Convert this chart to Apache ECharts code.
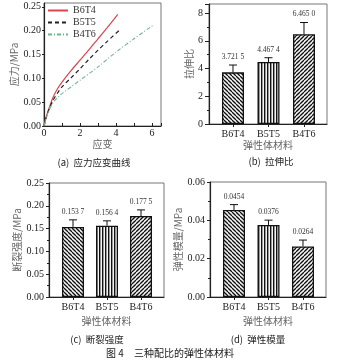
<!DOCTYPE html>
<html><head><meta charset="utf-8">
<script src="https://cdn.jsdelivr.net/npm/echarts@6/dist/echarts.min.js"></script>
<style>html,body{margin:0;padding:0;background:#fff}#c{width:340px;height:363px}</style>
</head><body><div id="c"></div>
<script>
// ---------- data ----------
const seriesNames = ['B6T4', 'B5T5', 'B4T6'];
const categories = ['B6T4', 'B5T5', 'B4T6'];
// (a) stress-strain curves [strain, stress MPa]
const curveB6T4 = [[0,0],[0.1,0.016],[0.25,0.034],[0.5,0.060],[0.75,0.078],[1,0.092],[1.5,0.116],[2,0.138],[2.5,0.160],[3,0.183],[3.5,0.206],[4.1,0.234]];
const curveB5T5 = [[0,0],[0.1,0.015],[0.25,0.032],[0.5,0.054],[0.75,0.069],[1,0.082],[1.5,0.101],[2,0.120],[2.5,0.140],[3,0.159],[3.5,0.177],[4.19,0.201]];
const curveB4T6 = [[0,0],[0.1,0.014],[0.25,0.030],[0.5,0.049],[0.75,0.060],[1,0.068],[1.5,0.082],[2,0.096],[3,0.124],[4,0.155],[5,0.183],[6.05,0.211]];
// (b) tensile ratio
const ratioValues = [3.7215, 4.4674, 6.4650];
const ratioErrors = [0.53, 0.31, 0.85];
const ratioLabels = ['3.721 5', '4.467 4', '6.465 0'];
// (c) breaking strength
const strengthValues = [0.1537, 0.1564, 0.1775];
const strengthErrors = [0.0155, 0.0106, 0.0135];
const strengthLabels = ['0.153 7', '0.156 4', '0.177 5'];
// (d) elastic modulus
const modulusValues = [0.0454, 0.0376, 0.0264];
const modulusErrors = [0.0028, 0.0025, 0.0033];
const modulusLabels = ['0.0454', '0.0376', '0.0264'];
// tick labels
const strainTicks = [0, 2, 4, 6];

// ---------- patterns ----------
function hatch(kind) {
  const c = document.createElement('canvas');
  const s = kind === 'vert' ? 3 : 4;
  c.width = s; c.height = s;
  const g = c.getContext('2d');
  g.fillStyle = '#f4f4f4'; g.fillRect(0, 0, s, s);
  g.fillStyle = '#111'; g.strokeStyle = '#111'; g.lineWidth = 1.3;
  if (kind === 'vert') { g.fillRect(0, 0, 1.4, s); }
  else {
    for (let k = -1; k <= 1; k++) {
      g.beginPath();
      if (kind === 'fwd') { g.moveTo(k * s, s); g.lineTo(k * s + s, 0); }
      else { g.moveTo(k * s, 0); g.lineTo(k * s + s, s); }
      g.stroke();
    }
  }
  return { image: c, repeat: 'repeat' };
}
const patterns = [hatch('back'), hatch('vert'), hatch('fwd')];

const serif = 'Liberation Serif';
const cjk = 'Noto Sans CJK SC';
const axisCol = '#222';

function barPanel(gi, values, errors, labels) {
  return [
    {
      type: 'bar', xAxisIndex: gi, yAxisIndex: gi, barWidth: 22,
      data: values.map((v, i) => ({
        value: [i, v],
        itemStyle: { color: patterns[i], borderColor: '#111', borderWidth: 1.3 }
      })),
      silent: true, z: 2
    },
    {
      type: 'custom', xAxisIndex: gi, yAxisIndex: gi, z: 3, silent: true, clip: false,
      data: values.map((v, i) => [i, v]),
      renderItem: function (params, api) {
        const i = params.dataIndex;
        const v = values[i], e = errors[i];
        const p0 = api.coord([i, v]);
        const p1 = api.coord([i, v + e]);
        const st = { stroke: '#111', lineWidth: 1 };
        return {
          type: 'group', children: [
            { type: 'line', shape: { x1: p0[0], y1: p0[1], x2: p1[0], y2: p1[1] }, style: st },
            { type: 'line', shape: { x1: p1[0] - 4, y1: p1[1], x2: p1[0] + 4, y2: p1[1] }, style: st },
            { type: 'text', x: p1[0], y: p1[1] - 4,
              style: { text: labels[i], align: 'center', verticalAlign: 'bottom',
                       fontFamily: serif, fontSize: 7.5, fill: '#333' } }
          ]
        };
      }
    }
  ];
}

function catAxis(gi, min, max, name, gap) {
  return {
    type: 'value', gridIndex: gi, min: min, max: max,
    axisLine: { onZero: false, lineStyle: { color: axisCol, width: 1.2 } },
    axisTick: { show: true, customValues: [0, 1, 2], length: 3, lineStyle: { color: axisCol } },
    axisLabel: { customValues: [0, 1, 2], formatter: v => categories[Math.round(v)] || '',
                 fontFamily: serif, fontSize: 10, color: '#222', margin: 5 },
    splitLine: { show: false },
    name: name, nameLocation: 'middle', nameGap: gap,
    nameTextStyle: { fontFamily: cjk, fontSize: 10, color: '#666' }
  };
}
function valAxis(gi, max, interval, digits, name, gap, margin, tickLen) {
  return {
    type: 'value', gridIndex: gi, min: 0, max: max, interval: interval,
    axisLine: { show: true, onZero: false, lineStyle: { color: axisCol, width: 1.2 } },
    axisTick: { show: true, length: tickLen, lineStyle: { color: axisCol } },
    minorTick: { show: true, splitNumber: 2, length: 2, lineStyle: { color: axisCol } },
    axisLabel: { formatter: v => v.toFixed(digits), fontFamily: serif, fontSize: 10, color: '#222', margin: margin },
    splitLine: { show: false },
    name: name, nameLocation: 'middle', nameGap: gap,
    nameTextStyle: { fontFamily: cjk, fontSize: 10, color: '#666' }
  };
}

const gridBase = { show: true, borderColor: '#777', borderWidth: 1, backgroundColor: 'transparent' };

const option = {
  animation: false,
  backgroundColor: '#fff',
  grid: [
    Object.assign({ left: 44, top: 3, width: 117, height: 123 }, gridBase),
    Object.assign({ left: 209, top: 4, width: 118, height: 120 }, gridBase),
    Object.assign({ left: 49, top: 183, width: 115, height: 114 }, gridBase),
    Object.assign({ left: 210, top: 182, width: 116, height: 115 }, gridBase)
  ],
  legend: {
    data: seriesNames, orient: 'vertical', left: 47, top: 5, padding: 0,
    itemWidth: 20, itemHeight: 8, itemGap: 1,
    itemStyle: { opacity: 0 },
    textStyle: { fontFamily: serif, fontSize: 10, color: '#333', lineHeight: 11, padding: [0, 0, 0, 0] }
  },
  xAxis: [
    {
      type: 'value', gridIndex: 0, min: 0, max: 6.5, interval: 1,
      axisLine: { onZero: false, lineStyle: { color: axisCol, width: 1.2 } },
      axisTick: { inside: true, length: 3, lineStyle: { color: axisCol } },
      axisLabel: { formatter: v => strainTicks.indexOf(v) >= 0 ? String(v) : '',
                   fontFamily: serif, fontSize: 10, color: '#222', margin: 2 },
      splitLine: { show: false },
      name: '应变', nameLocation: 'middle', nameGap: 13,
      nameTextStyle: { fontFamily: cjk, fontSize: 10, color: '#666' }
    },
    catAxis(1, -0.676, 2.648, '弹性体材料', 15),
    catAxis(2, -0.706, 2.676, '弹性体材料', 19),
    catAxis(3, -0.696, 2.667, '弹性体材料', 19)
  ],
  yAxis: [
    {
      type: 'value', gridIndex: 0, min: 0, max: 0.258, interval: 0.05,
      axisLine: { show: true, onZero: false, lineStyle: { color: axisCol, width: 1.2 } },
      axisTick: { show: true, length: 2, lineStyle: { color: axisCol } },
      axisLabel: { formatter: v => v.toFixed(2), fontFamily: serif, fontSize: 10, color: '#222', margin: 3 },
      splitLine: { show: false },
      name: '应力/MPa', nameLocation: 'middle', nameGap: 22,
      nameTextStyle: { fontFamily: cjk, fontSize: 10, color: '#666' }
    },
    valAxis(1, 8.65, 2, 0, '拉伸比', 14, 6, 4),
    valAxis(2, 0.25, 0.05, 2, '断裂强度/MPa', 21, 5, 3),
    valAxis(3, 0.06, 0.02, 2, '弹性模量/MPa', 25, 5, 3)
  ],
  series: [
    { name: 'B6T4', type: 'line', xAxisIndex: 0, yAxisIndex: 0, data: curveB6T4, symbol: 'none', smooth: 0.3,
      lineStyle: { color: '#d9444e', width: 1.2 }, itemStyle: { color: '#d9444e' } },
    { name: 'B5T5', type: 'line', xAxisIndex: 0, yAxisIndex: 0, data: curveB5T5, symbol: 'none', smooth: 0.3,
      lineStyle: { color: '#222', width: 1.2, type: [4, 3] }, itemStyle: { color: '#222' } },
    { name: 'B4T6', type: 'line', xAxisIndex: 0, yAxisIndex: 0, data: curveB4T6, symbol: 'none', smooth: 0.3,
      lineStyle: { color: '#6fb68e', width: 1.1, type: [4, 2, 1, 2] }, itemStyle: { color: '#6fb68e' } }
  ].concat(
    barPanel(1, ratioValues, ratioErrors, ratioLabels),
    barPanel(2, strengthValues, strengthErrors, strengthLabels),
    barPanel(3, modulusValues, modulusErrors, modulusLabels)
  ),
  graphic: [
    { type: 'text', x: 94, y: 162, style: { text: '(a)  应力应变曲线', align: 'center', verticalAlign: 'middle', fontFamily: cjk, fontSize: 9.5, fill: '#222' } },
    { type: 'text', x: 271, y: 161, style: { text: '(b)  拉伸比', align: 'center', verticalAlign: 'middle', fontFamily: cjk, fontSize: 9.5, fill: '#222' } },
    { type: 'text', x: 97, y: 339, style: { text: '(c)  断裂强度', align: 'center', verticalAlign: 'middle', fontFamily: cjk, fontSize: 9.5, fill: '#222' } },
    { type: 'text', x: 258, y: 339, style: { text: '(d)  弹性模量', align: 'center', verticalAlign: 'middle', fontFamily: cjk, fontSize: 9.5, fill: '#222' } },
    { type: 'text', x: 170, y: 353, style: { text: '图 4　三种配比的弹性体材料', align: 'center', verticalAlign: 'middle', fontFamily: cjk, fontSize: 10, fill: '#222' } }
  ]
};
const chart = echarts.init(document.getElementById('c'), null, { renderer: 'canvas' });
chart.setOption(option);
</script></body></html>
